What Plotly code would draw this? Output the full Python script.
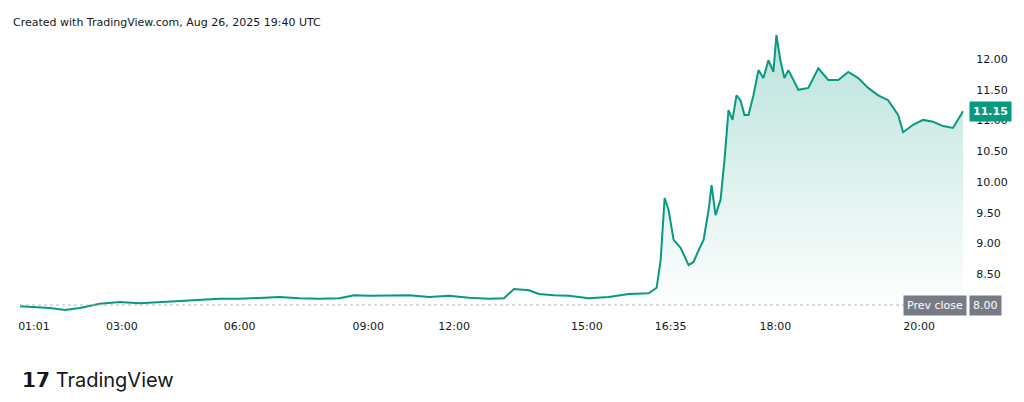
import plotly.graph_objects as go

bar_index = [10,20,40,55,70,90,110,130,150,170,190,210,230,250,270,290,310,330,345,360,380,400,420,440,460,480,495,505,520,530,545,560,580,600,620,640,648,652,656,660,665,672,680,685,690,695,700,703,707,712,716,720,724,728,732,736,740,745,750,755,760,765,768,772,776,780,785,790,800,810,820,830,840,850,860,870,880,890,895,905,915,925,935,945,955]
price = [7.98,7.97,7.95,7.92,7.95,8.02,8.05,8.03,8.05,8.06,8.08,8.10,8.10,8.11,8.13,8.11,8.10,8.11,8.16,8.15,8.15,8.16,8.13,8.15,8.12,8.10,8.11,8.26,8.24,8.18,8.16,8.15,8.11,8.13,8.18,8.19,8.28,8.73,9.74,9.54,9.06,8.93,8.65,8.70,8.89,9.06,9.54,9.95,9.46,9.71,10.36,11.17,11.01,11.41,11.33,11.09,11.09,11.41,11.82,11.69,11.98,11.79,12.39,11.98,11.69,11.82,11.66,11.50,11.53,11.85,11.66,11.66,11.79,11.69,11.53,11.41,11.33,11.09,10.81,10.93,11.01,10.98,10.91,10.88,11.15]
tick_pos = [24,112,230,359,445,578,662,767,911]
tick_text = ["01:01","03:00","06:00","09:00","12:00","15:00","16:35","18:00","20:00"]
y_ticks = [8.5,9.0,9.5,10.0,10.5,11.0,11.5,12.0]
prev_close = 8.00
last_price = 11.15

green = "#089981"
fig = go.Figure()
fig.add_trace(go.Scatter(x=bar_index, y=[prev_close]*len(bar_index), mode="lines",
                         line=dict(width=0), hoverinfo="skip", showlegend=False))
fig.add_trace(go.Scatter(x=bar_index, y=price, mode="lines", fill="tonexty",
                         line=dict(color=green, width=2),
                         fillgradient=dict(type="vertical",
                                           colorscale=[[0, "rgba(8,153,129,0.0)"], [1, "rgba(8,153,129,0.28)"]]),
                         showlegend=False))
fig.add_shape(type="line", xref="paper", x0=0, x1=1, yref="y", y0=prev_close, y1=prev_close,
              line=dict(color="#b2b5be", width=1, dash="dot"))

fig.update_layout(
    width=1024, height=402, paper_bgcolor="white", plot_bgcolor="white",
    margin=dict(l=10, r=67, t=17, b=92),
    font=dict(family="DejaVu Sans", size=12, color="#131722"),
    xaxis=dict(range=[10, 957], tickvals=tick_pos, ticktext=tick_text, showgrid=False,
               zeroline=False, showline=False, ticks="", tickfont=dict(size=11)),
    yaxis=dict(range=[7.789, 12.553], side="right", tickvals=y_ticks,
               ticktext=[f"{v:.2f}" for v in y_ticks], showgrid=False, zeroline=False,
               ticks="outside", ticklen=8, tickcolor="rgba(0,0,0,0)", tickfont=dict(size=11)),
)
fig.add_annotation(xref="paper", yref="paper", x=-0.01, y=1.007, xanchor="left", yanchor="middle",
                   text="Created with TradingView.com, Aug 26, 2025 19:40 UTC", showarrow=False,
                   font=dict(size=11, color="#131722"))
fig.add_annotation(xref="paper", yref="y", x=1.0, xshift=4, y=last_price, xanchor="left",
                   text="<b>11.15</b>", showarrow=False, bgcolor=green, font=dict(color="white", size=11),
                   borderpad=3)
fig.add_annotation(xref="paper", yref="y", x=1.0, xshift=-62, y=prev_close, xanchor="left",
                   text="Prev close", showarrow=False, bgcolor="#787b86", font=dict(color="white", size=11),
                   borderpad=3)
fig.add_annotation(xref="paper", yref="y", x=1.0, xshift=4, y=prev_close, xanchor="left",
                   text="8.00", showarrow=False, bgcolor="#787b86", font=dict(color="white", size=11),
                   borderpad=3)
fig.add_annotation(xref="paper", yref="paper", x=0, y=-0.212, xanchor="left", yanchor="middle",
                   text="<b>𝟭𝟳</b> TradingView", showarrow=False,
                   font=dict(size=20, color="#131722", family="Inter"))
fig.write_html("out.html")
